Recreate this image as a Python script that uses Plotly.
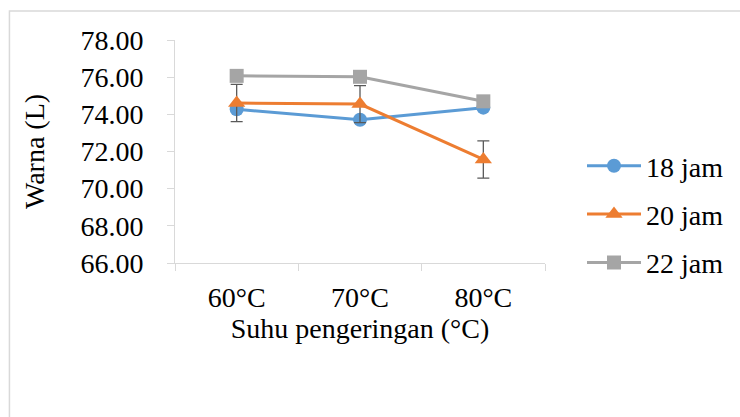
import plotly.graph_objects as go

categories = ["60°C", "70°C", "80°C"]
series_names = ["18 jam", "20 jam", "22 jam"]
values_18 = [74.27, 73.71, 74.36]
values_20 = [74.61, 74.55, 71.57]
values_22 = [76.07, 76.02, 74.70]
errors_20 = [1.0, 1.0, 1.0]

y_ticks = [66, 68, 70, 72, 74, 76, 78]

colors = ["#5B9BD5", "#ED7D31", "#A5A5A5"]
symbols = ["circle", "triangle-up", "square"]
sizes = [14, 15, 14]

FONT = "Liberation Serif"

fig = go.Figure()
all_vals = [values_18, values_20, values_22]
for i, (name, vals) in enumerate(zip(series_names, all_vals)):
    kw = {}
    if i == 1:
        kw["error_y"] = dict(type="data", array=errors_20, visible=True,
                             color="#595959", thickness=1.3, width=6)
    fig.add_trace(go.Scatter(
        x=categories, y=vals, name=name, mode="lines+markers",
        legendgroup=name,
        line=dict(color=colors[i], width=3),
        marker=dict(symbol=symbols[i], size=sizes[i], color=colors[i]),
        **kw))

W, H = 740, 417
L, R, T, B = 175, 546, 40, 263
pw, ph = R - L, B - T

def px_x(px):
    return (px - L) / pw

def px_y(py):
    return (B - py) / ph

fig.add_shape(type="rect", xref="paper", yref="paper",
              x0=px_x(9), x1=px_x(760), y0=px_y(11), y1=px_y(440),
              line=dict(color="#D9D9D9", width=1.5), fillcolor="rgba(0,0,0,0)",
              layer="below")

fig.update_layout(
    width=W, height=H,
    margin=dict(l=L, r=W - R, t=T, b=H - B),
    paper_bgcolor="white", plot_bgcolor="white",
    font=dict(family=FONT, size=28, color="black"),
    showlegend=True,
    legend=dict(x=px_x(582), y=px_y(141), xanchor="left", yanchor="top",
                font=dict(family=FONT, size=28, color="black"),
                itemwidth=54, tracegroupgap=9, traceorder="grouped",
                bgcolor="rgba(0,0,0,0)"),
    xaxis=dict(
        type="category", range=[-0.5, 2.5],
        showgrid=False, showline=True, linecolor="#D9D9D9", linewidth=1,
        ticks="outside", tickson="boundaries", ticklen=7, tickcolor="#D9D9D9",
        tickfont=dict(family=FONT, size=28, color="black"),
        ticklabelstandoff=9,
        title=dict(text="Suhu pengeringan (°C)", standoff=5,
                   font=dict(family=FONT, size=28, color="black")),
        zeroline=False,
    ),
    yaxis=dict(
        range=[66, 78], tickvals=y_ticks, tickformat=".2f",
        showgrid=False, showline=True, linecolor="#D9D9D9", linewidth=1,
        ticks="outside", ticklen=7, tickcolor="#D9D9D9",
        tickfont=dict(family=FONT, size=28, color="black"),
        ticklabelstandoff=18,
        title=dict(text="Warna (L)", standoff=27,
                   font=dict(family=FONT, size=28, color="black")),
        zeroline=False,
    ),
)

fig.write_html("out.html",
               config={"displayModeBar": False},
               post_script="document.body.style.margin='0';document.body.style.overflow='hidden';")
